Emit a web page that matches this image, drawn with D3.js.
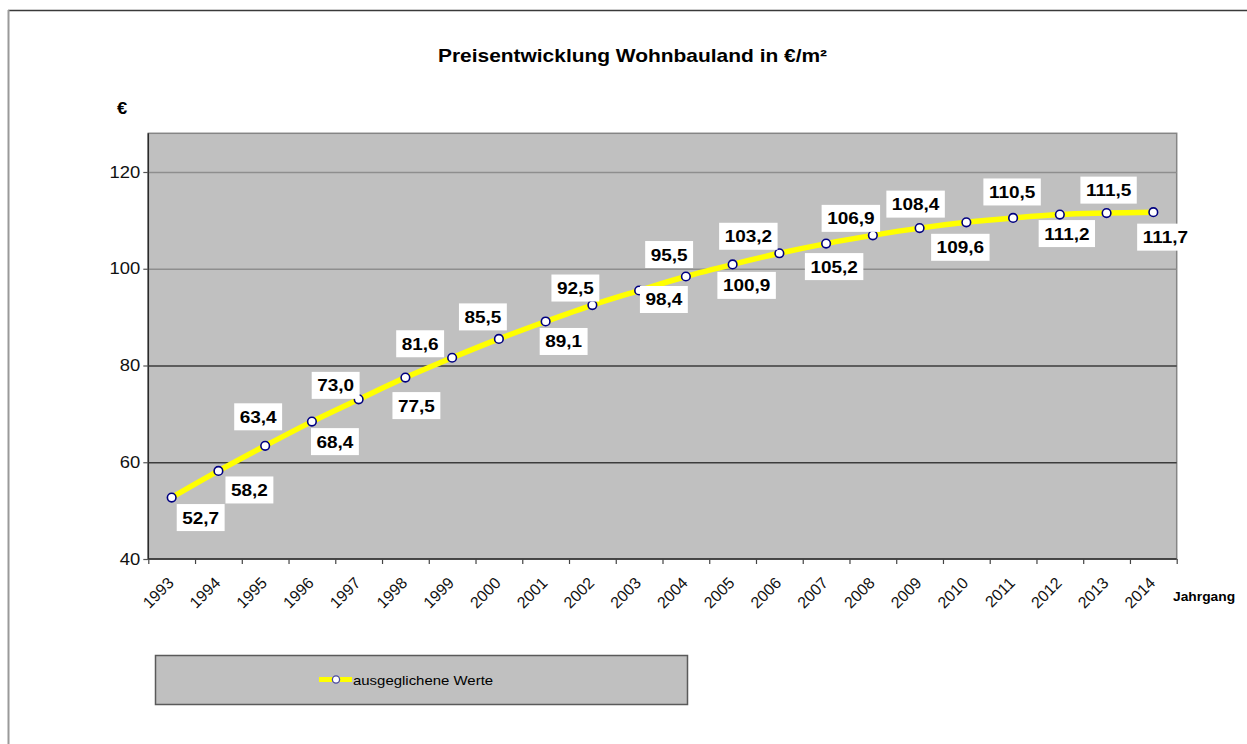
<!DOCTYPE html>
<html>
<head>
<meta charset="utf-8">
<script src="https://cdn.jsdelivr.net/npm/d3@7"></script>
<style>
  body { margin: 0; background: #fff; }
  svg { display: block; font-family: Arial, "Liberation Sans", sans-serif; }
</style>
</head>
<body>
<svg id="chart" width="1247" height="744"></svg>
<script>
// data
const years = [1993, 1994, 1995, 1996, 1997, 1998, 1999, 2000, 2001, 2002, 2003,
               2004, 2005, 2006, 2007, 2008, 2009, 2010, 2011, 2012, 2013, 2014];
const werte = [52.7, 58.2, 63.4, 68.4, 73.0, 77.5, 81.6, 85.5, 89.1, 92.5, 95.5,
               98.4, 100.9, 103.2, 105.2, 106.9, 108.4, 109.6, 110.5, 111.2, 111.5, 111.7];
const yTicks = [40, 60, 80, 100, 120];
const seriesName = "ausgeglichene Werte";

// where each value label sits, relative to its point (layout only)
const labelOffsets = [
  [29, 20], [31, 19], [-7, -29], [23, 20], [-23, -14], [11, 28],
  [-32, -14], [-16, -22], [18, 20], [-17, -17], [30, -36], [-22, 23],
  [14, 21], [-31, -17], [8, 23], [-22, -17], [-4, -24], [-6, 25],
  [-1, -26], [7, 19], [2, -23], [12, 25]
];

const svg = d3.select("#chart");
const stretch = 1.15; // the reference text is a bit wider than plain Arial

const plot = { left: 148.3, right: 1176.7, top: 133.3, bottom: 559 };

// outer frame (only top and left edges are in view)
svg.append("line").attr("x1", 8).attr("x2", 1247).attr("y1", 10.5).attr("y2", 10.5)
  .attr("stroke", "#3a3a3a").attr("stroke-width", 1.5);
svg.append("line").attr("x1", 8.5).attr("x2", 8.5).attr("y1", 10).attr("y2", 744)
  .attr("stroke", "#9a9a9a").attr("stroke-width", 2);

function wideText(g, x, y, txt, size, weight, anchor) {
  const t = g.append("g").attr("transform", `translate(${x},${y})`)
    .append("text")
    .attr("transform", `scale(${stretch},1)`)
    .attr("text-anchor", anchor || "start")
    .style("font-size", size + "px")
    .style("font-weight", weight || "normal")
    .attr("fill", "#000")
    .text(txt);
  return t;
}

// title and unit
wideText(svg, 632.5, 62, "Preisentwicklung Wohnbauland in €/m²", 18.2, "bold", "middle");
wideText(svg, 122, 114, "€", 16, "bold", "middle");

const x = d3.scaleBand().domain(years).range([plot.left, plot.right]).padding(0);
const xEdges = d3.scaleLinear().domain([0, years.length]).range([plot.left, plot.right]);
const y = d3.scaleLinear().domain([40, 128]).range([plot.bottom, plot.top]);

// plot area
svg.append("rect")
  .attr("x", plot.left).attr("y", plot.top)
  .attr("width", plot.right - plot.left).attr("height", plot.bottom - plot.top)
  .attr("fill", "#c0c0c0").attr("stroke", "#858585").attr("stroke-width", 1.5);

// grid
const grid = svg.append("g")
  .attr("transform", `translate(${plot.left},0)`)
  .call(d3.axisLeft(y).tickValues(yTicks.slice(1)).tickSize(-(plot.right - plot.left)).tickFormat(""));
grid.select(".domain").remove();
grid.selectAll(".tick line")
  .attr("stroke", d => d >= 100 ? "#8e8e8e" : "#3c3c3c")
  .attr("stroke-width", 1.5);

// y axis
const yAxis = svg.append("g")
  .attr("transform", `translate(${plot.left},0)`)
  .call(d3.axisLeft(y).tickValues(yTicks).tickSize(5).tickPadding(4));
yAxis.select(".domain").attr("stroke", "#2a2a2a").attr("stroke-width", 1.5)
  .attr("d", `M0,${plot.top}V${plot.bottom}`);
yAxis.selectAll(".tick line").attr("stroke", "#555").attr("stroke-width", 1.2);
yAxis.selectAll(".tick text")
  .style("font-size", "16px").attr("fill", "#111")
  .attr("transform", `scale(${stretch},1)`)
  .attr("x", -8 / stretch);

// x axis: tick marks on category edges
const xTicks = svg.append("g")
  .attr("transform", `translate(0,${plot.bottom})`)
  .call(d3.axisBottom(xEdges).tickValues(d3.range(years.length + 1)).tickSize(5).tickFormat(""));
xTicks.select(".domain").attr("stroke", "#2a2a2a").attr("stroke-width", 1.5)
  .attr("d", `M${plot.left},0H${plot.right}`);
xTicks.selectAll(".tick line").attr("stroke", "#444").attr("stroke-width", 1.2);

// x axis: rotated year labels at category centres
const xAxis = svg.append("g")
  .attr("transform", `translate(0,${plot.bottom})`)
  .call(d3.axisBottom(x).tickSize(0));
xAxis.select(".domain").remove();
xAxis.selectAll(".tick text")
  .style("font-size", "16px").attr("fill", "#111")
  .attr("text-anchor", "end")
  .attr("x", 0).attr("y", 0).attr("dy", 0)
  .attr("transform", "translate(3,25) rotate(-45)");

wideText(svg, 1173, 601, "Jahrgang", 12, "bold", "start");

// smoothed series line
const line = d3.line()
  .x((d, i) => x(years[i]) + x.bandwidth() / 2)
  .y(d => y(d))
  .curve(d3.curveCatmullRom.alpha(0.5));

svg.append("path")
  .datum(werte)
  .attr("d", line)
  .attr("fill", "none")
  .attr("stroke", "#ffff00")
  .attr("stroke-width", 5.5)
  .attr("stroke-linecap", "round");

svg.append("g").selectAll("circle")
  .data(werte)
  .join("circle")
  .attr("cx", (d, i) => x(years[i]) + x.bandwidth() / 2)
  .attr("cy", d => y(d))
  .attr("r", 4.3)
  .attr("fill", "#fff")
  .attr("stroke", "#000080")
  .attr("stroke-width", 1.6);

// value labels in white boxes
const fmt = d => d.toFixed(1).replace(".", ",");
const labels = svg.append("g");
werte.forEach((v, i) => {
  const cx = x(years[i]) + x.bandwidth() / 2 + labelOffsets[i][0];
  const cy = y(v) + labelOffsets[i][1];
  const g = labels.append("g");
  const box = g.append("rect").attr("fill", "#fff");
  const t = wideText(g, cx, cy + 6, fmt(v), 16.5, "bold", "middle");
  const w = t.node().getComputedTextLength() * stretch + 11;
  const h = 27;
  box.attr("x", cx - w / 2).attr("y", cy - h / 2).attr("width", w).attr("height", h);
});

// legend
const legend = svg.append("g");
legend.append("rect")
  .attr("x", 155.5).attr("y", 655.5).attr("width", 532).attr("height", 49)
  .attr("fill", "#c0c0c0").attr("stroke", "#5a5a5a").attr("stroke-width", 1.5);
legend.append("line")
  .attr("x1", 319).attr("x2", 352).attr("y1", 679.5).attr("y2", 679.5)
  .attr("stroke", "#ffff00").attr("stroke-width", 5);
legend.append("circle")
  .attr("cx", 336).attr("cy", 679.5).attr("r", 3.6)
  .attr("fill", "#fff").attr("stroke", "#4a4aa0").attr("stroke-width", 1.3);
wideText(legend, 353, 684.5, seriesName, 13, "normal", "start");
</script>
</body>
</html>
